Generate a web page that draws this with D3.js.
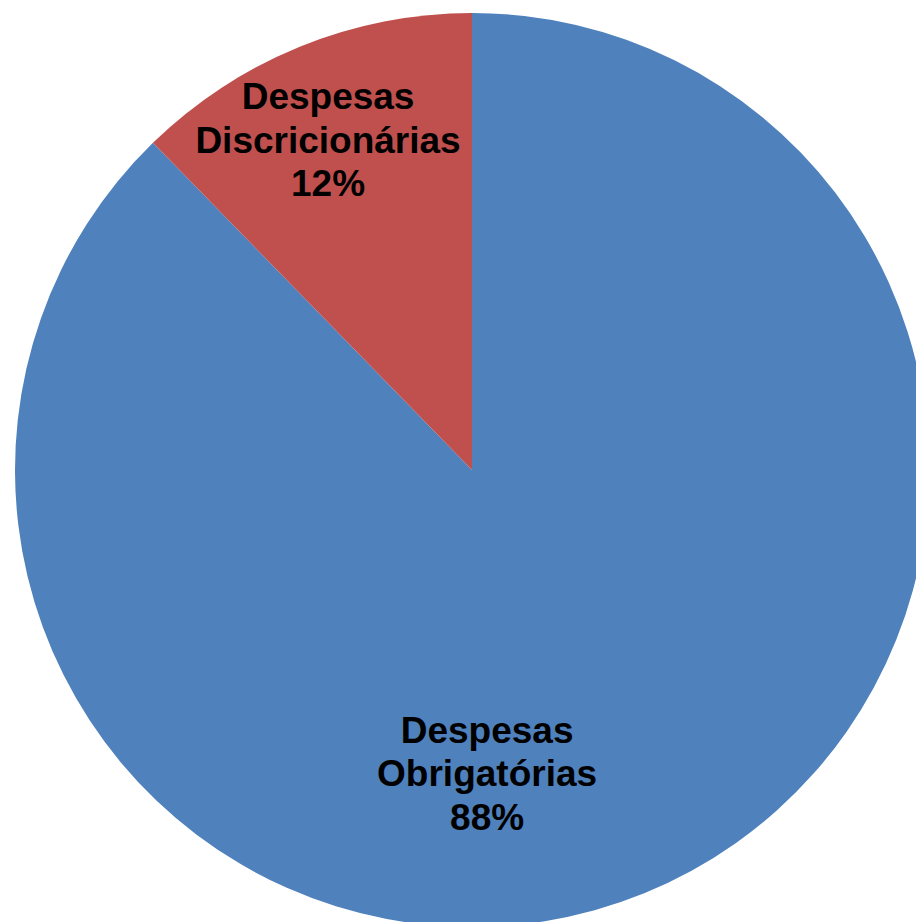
<!DOCTYPE html>
<html>
<head>
<meta charset="utf-8">
<script src="https://cdn.jsdelivr.net/npm/d3@7"></script>
<style>
  html, body { margin: 0; padding: 0; background: #fff; }
  svg { display: block; }
</style>
</head>
<body>
<div id="chart"></div>
<script>
// dados
var categories = ["Despesas Obrigatórias", "Despesas Discricionárias"];
var labelLines = [["Despesas", "Obrigatórias"], ["Despesas", "Discricionárias"]];
var values = [87.7, 12.3];
var colors = ["#4F81BD", "#C0504D"];

var width = 916, height = 922;
var cx = 472, cy = 470, radius = 457;

// posição dos rótulos (fração do raio, relativo ao centro)
var labelOffset = [[0.033, 0.67], [-0.315, -0.716]];

var svg = d3.select("#chart").append("svg")
    .attr("width", width)
    .attr("height", height);

var g = svg.append("g").attr("transform", "translate(" + cx + "," + cy + ")");

var pie = d3.pie().sort(null).value(function(d) { return d; });
var arc = d3.arc().innerRadius(0).outerRadius(radius);

var arcs = pie(values);
var total = d3.sum(values);

g.selectAll("path.slice")
    .data(arcs).enter()
    .append("path")
    .attr("class", "slice")
    .attr("d", arc)
    .attr("fill", function(d, i) { return colors[i]; });

var lineH = 43.5;
var labels = g.selectAll("text.lbl")
    .data(arcs).enter()
    .append("text")
    .attr("class", "lbl")
    .attr("text-anchor", "middle")
    .attr("font-family", "Liberation Sans, Arial, sans-serif")
    .attr("font-weight", "bold")
    .attr("font-size", "37px")
    .attr("fill", "#000")
    .attr("x", function(d, i) { return labelOffset[i][0] * radius; })
    .attr("y", function(d, i) { return labelOffset[i][1] * radius; });

labels.each(function(d, i) {
    var t = d3.select(this);
    var lines = labelLines[i].concat([Math.round(d.data / total * 100) + "%"]);
    lines.forEach(function(s, k) {
        t.append("tspan")
            .attr("x", labelOffset[i][0] * radius)
            .attr("dy", k === 0 ? (-lineH + 10) : lineH)
            .text(s);
    });
});
</script>
</body>
</html>
